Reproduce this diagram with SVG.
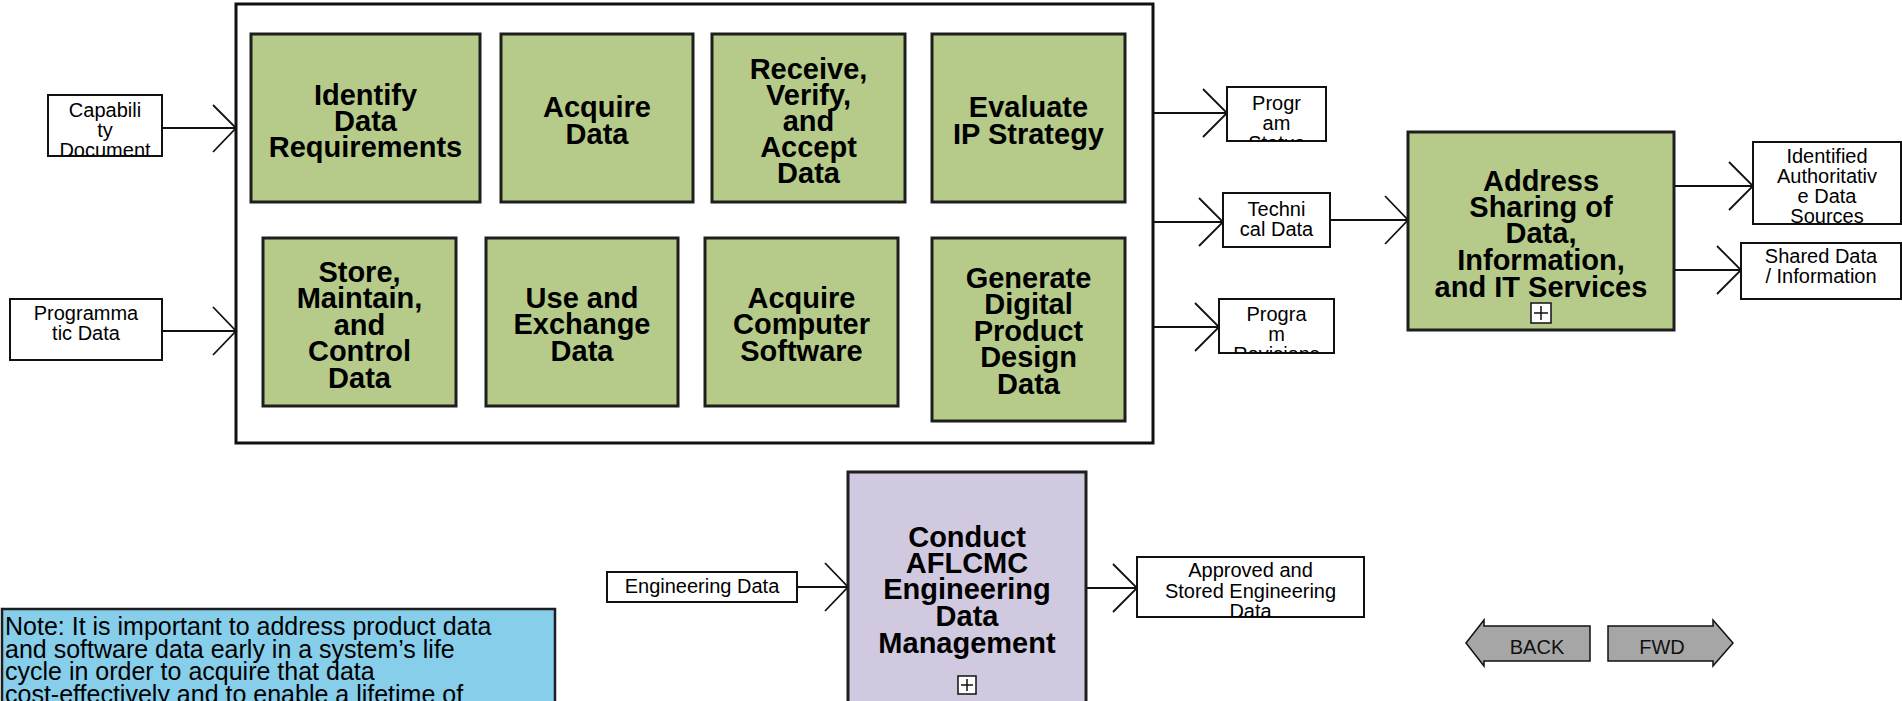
<svg xmlns="http://www.w3.org/2000/svg" width="1902" height="701" viewBox="0 0 1902 701">
<style>
.bg{fill:#ffffff}
.frame{fill:#ffffff;stroke:#111;stroke-width:3}
.act{fill:#B6CB89;stroke:#1e1e1e;stroke-width:3}
.actp{fill:#D0C9DF;stroke:#1e1e1e;stroke-width:3}
.lbl{fill:#ffffff;stroke:#111;stroke-width:2}
.note{fill:#87CEEB;stroke:#1e1e1e;stroke-width:2.5}
.btn{fill:#A6A6A6;stroke:#111;stroke-width:1.5}
.plus{fill:#ffffff;stroke:#111;stroke-width:1.5}
.ln{fill:none;stroke:#111;stroke-width:2}
.ah{fill:none;stroke:#111;stroke-width:1.8}
.tb{font-family:"Liberation Sans",Arial,sans-serif;font-weight:bold;font-size:29px;fill:#000;text-anchor:middle}
.ts{font-family:"Liberation Sans",Arial,sans-serif;font-size:20px;fill:#000;text-anchor:middle}
.tn{font-family:"Liberation Sans",Arial,sans-serif;font-size:25px;fill:#000}
.tbtn{font-family:"Liberation Sans",Arial,sans-serif;font-size:20px;fill:#111;text-anchor:middle}
</style>
<defs>
<clipPath id="cCap"><rect x="48" y="95" width="114" height="61"/></clipPath>
<clipPath id="cPS"><rect x="1227" y="87" width="99" height="54"/></clipPath>
<clipPath id="cPR"><rect x="1219" y="299" width="115" height="54"/></clipPath>
<clipPath id="cIA"><rect x="1753" y="142" width="148" height="82"/></clipPath>
<clipPath id="cAS"><rect x="1137" y="557" width="227" height="60"/></clipPath>
</defs>
<rect class="bg" x="0" y="0" width="1902" height="701"/>

<g id="frame"><rect class="frame" x="236" y="4" width="917" height="439"/></g>

<g id="connectors">
  <path class="ln" d="M162 128H236"/><path class="ah" d="M213 105L236 128L213 152"/>
  <path class="ln" d="M162 331H236"/><path class="ah" d="M213 307L236 331L213 355"/>
  <path class="ln" d="M1153 113H1227"/><path class="ah" d="M1203 89L1227 113L1203 137"/>
  <path class="ln" d="M1153 222H1223"/><path class="ah" d="M1199 198L1223 222L1199 246"/>
  <path class="ln" d="M1153 327H1219"/><path class="ah" d="M1195 303L1219 327L1195 351"/>
  <path class="ln" d="M1330 220H1408"/><path class="ah" d="M1385 196L1408 220L1385 244"/>
  <path class="ln" d="M1674 186H1753"/><path class="ah" d="M1729 162L1753 186L1729 210"/>
  <path class="ln" d="M1674 270H1741"/><path class="ah" d="M1717 246L1741 270L1717 294"/>
  <path class="ln" d="M797 587H848"/><path class="ah" d="M825 563L848 587L825 611"/>
  <path class="ln" d="M1086 588H1137"/><path class="ah" d="M1113 564L1137 588L1113 612"/>
</g>

<g id="capability-document">
  <rect class="lbl" x="48" y="95" width="114" height="61"/>
  <g clip-path="url(#cCap)"><text class="ts" x="105" y="117">Capabili</text><text class="ts" x="105" y="137">ty</text><text class="ts" x="105" y="157">Document</text></g>
</g>
<g id="programmatic-data">
  <rect class="lbl" x="10" y="299" width="152" height="61"/>
  <text class="ts" x="86" y="320">Programma</text><text class="ts" x="86" y="340">tic Data</text>
</g>

<g id="identify-data-requirements">
  <rect class="act" x="251" y="34" width="229" height="168"/>
  <text class="tb" x="365.5" y="105">Identify</text><text class="tb" x="365.5" y="131">Data</text><text class="tb" x="365.5" y="157">Requirements</text>
</g>
<g id="acquire-data">
  <rect class="act" x="501" y="34" width="192" height="168"/>
  <text class="tb" x="597" y="117">Acquire</text><text class="tb" x="597" y="144">Data</text>
</g>
<g id="receive-verify-accept">
  <rect class="act" x="712" y="34" width="193" height="168"/>
  <text class="tb" x="808.5" y="79">Receive,</text><text class="tb" x="808.5" y="105">Verify,</text><text class="tb" x="808.5" y="131">and</text><text class="tb" x="808.5" y="157">Accept</text><text class="tb" x="808.5" y="183">Data</text>
</g>
<g id="evaluate-ip-strategy">
  <rect class="act" x="932" y="34" width="193" height="168"/>
  <text class="tb" x="1028.5" y="117">Evaluate</text><text class="tb" x="1028.5" y="144">IP Strategy</text>
</g>
<g id="store-maintain-control">
  <rect class="act" x="263" y="238" width="193" height="168"/>
  <text class="tb" x="359.5" y="282">Store,</text><text class="tb" x="359.5" y="308">Maintain,</text><text class="tb" x="359.5" y="335">and</text><text class="tb" x="359.5" y="361">Control</text><text class="tb" x="359.5" y="388">Data</text>
</g>
<g id="use-exchange-data">
  <rect class="act" x="486" y="238" width="192" height="168"/>
  <text class="tb" x="582" y="308">Use and</text><text class="tb" x="582" y="334">Exchange</text><text class="tb" x="582" y="361">Data</text>
</g>
<g id="acquire-computer-software">
  <rect class="act" x="705" y="238" width="193" height="168"/>
  <text class="tb" x="801.5" y="308">Acquire</text><text class="tb" x="801.5" y="334">Computer</text><text class="tb" x="801.5" y="361">Software</text>
</g>
<g id="generate-digital-product-design-data">
  <rect class="act" x="932" y="238" width="193" height="183"/>
  <text class="tb" x="1028.5" y="288">Generate</text><text class="tb" x="1028.5" y="314">Digital</text><text class="tb" x="1028.5" y="341">Product</text><text class="tb" x="1028.5" y="367">Design</text><text class="tb" x="1028.5" y="394">Data</text>
</g>

<g id="program-status">
  <rect class="lbl" x="1227" y="87" width="99" height="54"/>
  <g clip-path="url(#cPS)"><text class="ts" x="1276.5" y="110">Progr</text><text class="ts" x="1276.5" y="130">am</text><text class="ts" x="1276.5" y="150">Status</text></g>
</g>
<g id="technical-data">
  <rect class="lbl" x="1223" y="193" width="107" height="54"/>
  <text class="ts" x="1276.5" y="216">Techni</text><text class="ts" x="1276.5" y="236">cal Data</text>
</g>
<g id="program-revisions">
  <rect class="lbl" x="1219" y="299" width="115" height="54"/>
  <g clip-path="url(#cPR)"><text class="ts" x="1276.5" y="321">Progra</text><text class="ts" x="1276.5" y="341">m</text><text class="ts" x="1276.5" y="361">Revisions</text></g>
</g>

<g id="address-sharing">
  <rect class="act" x="1408" y="132" width="266" height="198"/>
  <text class="tb" x="1541" y="191">Address</text><text class="tb" x="1541" y="217">Sharing of</text><text class="tb" x="1541" y="243">Data,</text><text class="tb" x="1541" y="270">Information,</text><text class="tb" x="1541" y="297">and IT Services</text>
  <rect class="plus" x="1531" y="303" width="20" height="20"/><path class="ln" style="stroke-width:1.5" d="M1541 306V320M1534 313H1548"/>
</g>
<g id="identified-authoritative-data-sources">
  <rect class="lbl" x="1753" y="142" width="148" height="82"/>
  <g clip-path="url(#cIA)"><text class="ts" x="1827" y="163">Identified</text><text class="ts" x="1827" y="183">Authoritativ</text><text class="ts" x="1827" y="203">e Data</text><text class="ts" x="1827" y="223">Sources</text></g>
</g>
<g id="shared-data-information">
  <rect class="lbl" x="1741" y="243" width="160" height="56"/>
  <text class="ts" x="1821" y="263">Shared Data</text><text class="ts" x="1821" y="283">/ Information</text>
</g>

<g id="engineering-data">
  <rect class="lbl" x="607" y="572" width="190" height="30"/>
  <text class="ts" x="702" y="593">Engineering Data</text>
</g>
<g id="conduct-aflcmc-edm">
  <rect class="actp" x="848" y="472" width="238" height="231"/>
  <text class="tb" x="967" y="547">Conduct</text><text class="tb" x="967" y="573">AFLCMC</text><text class="tb" x="967" y="599">Engineering</text><text class="tb" x="967" y="626">Data</text><text class="tb" x="967" y="653">Management</text>
  <rect class="plus" x="958" y="676" width="18" height="18"/><path class="ln" style="stroke-width:1.5" d="M967 679V691M961 685H973"/>
</g>
<g id="approved-stored-engineering-data">
  <rect class="lbl" x="1137" y="557" width="227" height="60"/>
  <g clip-path="url(#cAS)"><text class="ts" x="1250.5" y="577">Approved and</text><text class="ts" x="1250.5" y="598">Stored Engineering</text><text class="ts" x="1250.5" y="618">Data</text></g>
</g>

<g id="note">
  <rect class="note" x="2" y="609" width="553" height="110"/>
  <text class="tn" x="5" y="635">Note: It is important to address product data</text>
  <text class="tn" x="5" y="657.5">and software data early in a system’s life</text>
  <text class="tn" x="5" y="680">cycle in order to acquire that data</text>
  <text class="tn" x="5" y="702.5">cost-effectively and to enable a lifetime of</text>
</g>

<g id="back-button">
  <path class="btn" d="M1466 643L1484 620V626H1590V661H1484V666Z"/>
  <text class="tbtn" x="1537" y="654">BACK</text>
</g>
<g id="fwd-button">
  <path class="btn" d="M1608 626H1713V620L1733 643L1713 666V661H1608Z"/>
  <text class="tbtn" x="1662" y="654">FWD</text>
</g>
</svg>
